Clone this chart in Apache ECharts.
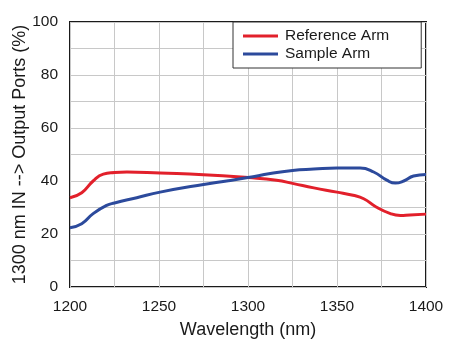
<!DOCTYPE html>
<html>
<head>
<meta charset="utf-8">
<script src="https://cdn.jsdelivr.net/npm/echarts@6/dist/echarts.min.js"></script>
<style>html,body{margin:0;padding:0;background:#fff;}#c{width:450px;height:348px;}</style>
</head>
<body>
<div id="c"></div>
<script>
const refWavelength = [1200, 1206.6, 1213, 1218.7, 1225, 1232, 1250.6, 1275, 1300, 1316, 1325.6, 1337, 1350, 1359, 1365, 1372, 1380, 1385.6, 1391, 1400];
const refValues     = [33.7, 35.6, 40.0, 42.6, 43.2, 43.4, 43.0, 42.4, 41.3, 40.3, 39.0, 37.4, 35.8, 34.6, 33.3, 30.2, 27.7, 27.0, 27.2, 27.5];
const sampleWavelength = [1200, 1206.6, 1213, 1220.6, 1225, 1237.5, 1250.6, 1275, 1288, 1300, 1312.5, 1325, 1337, 1350, 1363, 1370.6, 1378, 1382.8, 1387.5, 1393, 1400];
const sampleValues     = [22.4, 23.9, 27.7, 30.8, 31.7, 33.7, 35.8, 38.7, 40.0, 41.3, 42.8, 44.0, 44.5, 44.9, 44.9, 43.4, 40.3, 39.2, 40.0, 41.9, 42.5];
const seriesNames = ['Reference Arm', 'Sample Arm'];
const xTicks = [1200, 1250, 1300, 1350, 1400];
const yTicks = [0, 20, 40, 60, 80, 100];

const pair = (xs, ys) => xs.map((x, i) => [x, ys[i]]);
const font = 'Liberation Sans, Arial, Helvetica, sans-serif';
const chart = echarts.init(document.getElementById('c'), null, {renderer: 'canvas'});
chart.setOption({
  animation: false,
  backgroundColor: '#fff',
  textStyle: {fontFamily: font},
  grid: {left: 70, right: 24, top: 22, bottom: 61, show: true, borderColor: '#1a1a1a', borderWidth: 2, containLabel: false},
  legend: {
    orient: 'vertical', left: 233, top: 22,
    padding: [6, 32, 6, 10], itemGap: 2,
    itemWidth: 35, itemHeight: 3, icon: 'rect',
    backgroundColor: '#fff', borderColor: '#333', borderWidth: 1,
    textStyle: {fontFamily: font, fontSize: 15.5, color: '#1a1a1a', padding: [0, 0, 0, 2]},
    data: seriesNames
  },
  xAxis: {
    type: 'value', min: xTicks[0], max: xTicks[xTicks.length - 1], interval: 50,
    name: 'Wavelength (nm)', nameLocation: 'middle', nameGap: 34, nameMoveOverlap: false,
    nameTextStyle: {fontFamily: font, fontSize: 18, color: '#1a1a1a'},
    axisLine: {show: false}, axisTick: {show: false},
    axisLabel: {fontFamily: font, fontSize: 15.5, color: '#1a1a1a', margin: 12, formatter: v => String(v)},
    splitLine: {show: true, lineStyle: {color: '#c8c8c8', width: 1}},
    minorTick: {show: false, splitNumber: 2},
    minorSplitLine: {show: true, lineStyle: {color: '#c8c8c8', width: 1}}
  },
  yAxis: {
    type: 'value', min: yTicks[0], max: yTicks[yTicks.length - 1], interval: 20,
    name: '1300 nm IN --> Output Ports (%)', nameLocation: 'middle', nameGap: 41, nameMoveOverlap: false,
    nameTextStyle: {fontFamily: font, fontSize: 18, color: '#1a1a1a'},
    axisLine: {show: false}, axisTick: {show: false},
    axisLabel: {fontFamily: font, fontSize: 15.5, color: '#1a1a1a', margin: 12, formatter: v => String(v)},
    splitLine: {show: true, lineStyle: {color: '#c8c8c8', width: 1}},
    minorTick: {show: false, splitNumber: 2},
    minorSplitLine: {show: true, lineStyle: {color: '#c8c8c8', width: 1}}
  },
  series: [
    {name: seriesNames[0], type: 'line', data: pair(refWavelength, refValues), smooth: 0.5, showSymbol: false, symbol: 'none',
     lineStyle: {color: '#e2202b', width: 3}, itemStyle: {color: '#e2202b'}},
    {name: seriesNames[1], type: 'line', data: pair(sampleWavelength, sampleValues), smooth: 0.5, showSymbol: false, symbol: 'none',
     lineStyle: {color: '#2c4a9c', width: 3}, itemStyle: {color: '#2c4a9c'}}
  ]
});
</script>
</body>
</html>
